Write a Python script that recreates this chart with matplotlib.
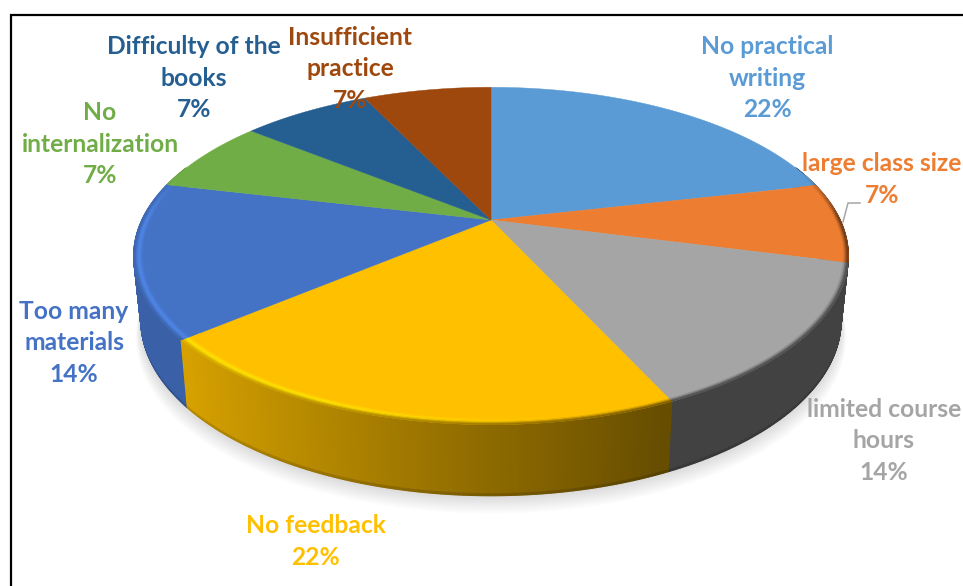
#! python
import numpy as np
import matplotlib
matplotlib.use('Agg')
import matplotlib.pyplot as plt
from matplotlib.collections import PolyCollection
from matplotlib.colors import to_rgb

# ------- chart data (share of the rim, clockwise from 12 o'clock, as measured on the picture)
categories = ['No practical\nwriting', 'large class size', 'limited course\nhours', 'No feedback',
              'Too many\nmaterials', 'No\ninternalization', 'Difficulty of the\nbooks', 'Insufficient\npractice']
values = [21.4, 7.6, 14.1, 20.7, 14.8, 7.1, 7.1, 7.1]
percent_labels = ['22%', '7%', '14%', '22%', '14%', '7%', '7%', '7%']
colors = ['#5b9bd5', '#ed7d31', '#a5a5a5', '#ffc000', '#4472c4', '#70ad47', '#255e91', '#9e480e']

# label centres in pixels
label_x = [767, 882, 884, 316, 74, 100, 194, 350]
label_y = [78, 179.5, 441, 541.5, 343, 144, 78, 69]

# pie geometry in pixels
cx, cy = 491, 220
rx, ry = 349, 161
persp = 0.213
band = 0.95


def project(theta, scale=1.0):
    x = np.sin(theta) * scale
    u = -np.cos(theta) * scale
    w = 1 - persp * u
    return cx + rx * x / w, cy + ry * u / w


def project_bottom(theta, grow=0.0, dy=0.0):
    u = -np.cos(theta)
    w = 1 - persp * u
    xb = cx + rx * (0.98 + grow) * np.sin(theta) / w
    yb = cy + ry * u / w + 62 + 9 * u + dy
    return xb, yb


def wall_shade(x):
    return np.interp(x, [-0.78, 0.40], [0.85, 0.40])


def lerp(a, b, t):
    return a + (b - a) * t


fig = plt.figure(figsize=(9.63, 5.86), dpi=100)
ax = fig.add_axes([0, 0, 1, 1])
ax.set_xlim(0, 963)
ax.set_ylim(586, 0)
ax.axis('off')

# frame
ax.plot([11, 11, 963], [586, 15, 15], color='black', lw=1.6, solid_joinstyle='miter', zorder=1)

edges = np.cumsum([0] + values) / sum(values) * 2 * np.pi
thetas = np.linspace(0, 2 * np.pi, 1081)
mids = (thetas[:-1] + thetas[1:]) / 2
slice_idx = np.clip(np.searchsorted(edges, mids) - 1, 0, len(values) - 1)
rgb = np.array([to_rgb(c) for c in colors])

# soft shadow under the pie
for i in range(1, 13):
    xb, yb = project_bottom(thetas, grow=0.0012 * i, dy=1.5 * i)
    ax.fill(xb, yb, color='black', alpha=0.011, lw=0, zorder=2)

# side wall, back to front so that the front slices cover the hidden parts
order = np.argsort(-np.cos(mids))
polys, cols = [], []
for j in order:
    if -np.cos(mids[j]) < -0.35:
        continue
    t0, t1 = thetas[j], thetas[j + 1]
    base = rgb[slice_idx[j]]
    shade = wall_shade(np.sin(mids[j]))
    xa, ya = project(np.array([t0, t1]))
    xb, yb = project_bottom(np.array([t0, t1]))
    xm, ym = lerp(xa, xb, 0.975), lerp(ya, yb, 0.975)
    polys.append([(xa[0], ya[0]), (xa[1], ya[1]), (xm[1], ym[1]), (xm[0], ym[0])])
    cols.append(base * shade)
    polys.append([(xm[0], ym[0]), (xm[1], ym[1]), (xb[1], yb[1]), (xb[0], yb[0])])
    cols.append(base * shade * 0.85)
ax.add_collection(PolyCollection(polys, facecolors=cols, edgecolors='face', linewidths=1.0, zorder=3))

# top face
for i in range(len(values)):
    th = np.linspace(edges[i], edges[i + 1], 120)
    xs, ys = project(th)
    ax.fill(np.r_[cx, xs], np.r_[cy, ys], color=colors[i], lw=0.3, zorder=4)

# bevel along the front rim
n_steps = 12
polys, cols = [], []
for j in range(len(mids)):
    u = -np.cos(mids[j])
    strength = np.interp(u, [-0.3, 0.0], [0, 1])
    if strength <= 0:
        continue
    base = rgb[slice_idx[j]]
    sx = np.sin(mids[j])
    wall = base * wall_shade(sx)
    peak = np.clip(base * np.interp(sx, [-0.4, 0.2], [1.2, 1.0]), 0, 1)
    for k in range(n_steps):
        a = k / n_steps
        b = (k + 1) / n_steps
        s0, s1 = lerp(band, 1.0, a), lerp(band, 1.0, b)
        tm = (a + b) / 2
        if tm < 0.5:
            col = base
        elif tm < 0.75:
            col = lerp(base, peak, (tm - 0.5) / 0.25)
        else:
            col = lerp(peak, wall, (tm - 0.75) / 0.25)
        col = lerp(base, col, strength)
        x0, y0 = project(np.array([thetas[j], thetas[j + 1]]), s0)
        x1, y1 = project(np.array([thetas[j], thetas[j + 1]]), s1)
        polys.append([(x0[0], y0[0]), (x0[1], y0[1]), (x1[1], y1[1]), (x1[0], y1[0])])
        cols.append(col)
ax.add_collection(PolyCollection(polys, facecolors=cols, edgecolors='face', linewidths=0.5, zorder=5))

# leader line for the orange label
ax.plot([860, 848, 843], [203, 203, 222], color='#a6a6a6', lw=1.1, zorder=6)

# data labels
for name, pct, col, lx, ly in zip(categories, percent_labels, colors, label_x, label_y):
    ax.text(lx, ly, name + '\n' + pct, color=col, ha='center', va='center', multialignment='center',
            fontsize=17.7, fontweight='bold', family='Lato', linespacing=1.45, zorder=7)

fig.savefig('out.png', dpi=100)
